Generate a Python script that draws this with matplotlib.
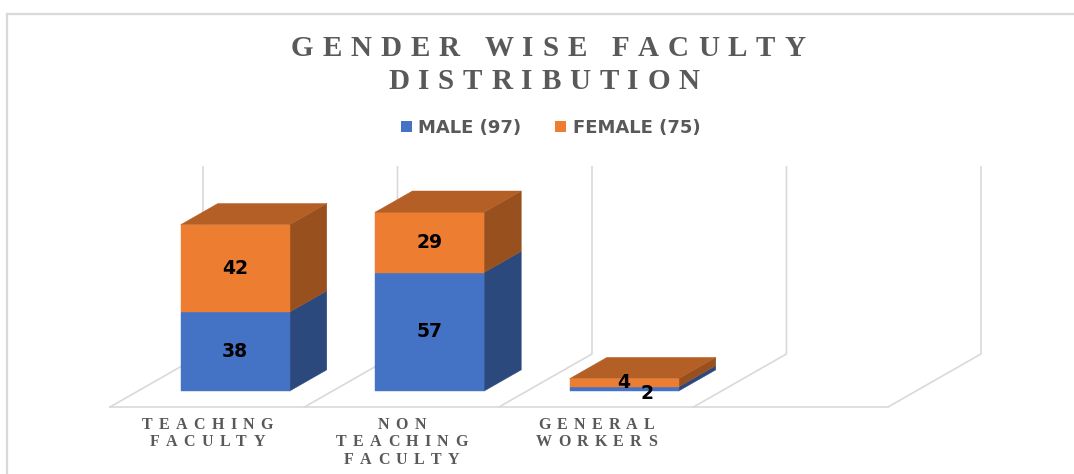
import matplotlib
matplotlib.use("Agg")
import matplotlib.pyplot as plt
from matplotlib.font_manager import FontProperties, findfont, get_font
from matplotlib.lines import Line2D
from matplotlib.patches import Polygon, Rectangle
from matplotlib.transforms import IdentityTransform

# ---------------------------------------------------------------------------
# Data
# ---------------------------------------------------------------------------
categories = [["TEACHING", "FACULTY"],
              ["NON", "TEACHING", "FACULTY"],
              ["GENERAL", "WORKERS"]]
male = [38, 57, 2]
female = [42, 29, 4]
series = ["MALE", "FEMALE"]
title_lines = ["GENDER WISE FACULTY", "DISTRIBUTION"]

N_SLOTS = 4          # floor has one empty slot on the right
V_MAX = 90           # top of the back wall (value units)

# ---------------------------------------------------------------------------
# Look and geometry (oblique "3D" projection)
# ---------------------------------------------------------------------------
W, H, DPI = 1074, 474, 100
SLOT_PX = 194.5      # pixels per category slot
UNIT_PX = 2.08       # pixels per value unit
ORIGIN = (110, 407)  # front-left floor corner, pixels from top-left
DEPTH_X = 0.478      # full depth, in slot units
DEPTH_Y = 25.5       # full depth, in value units
BAR_GAP = 0.22
D_FRONT, D_BACK = 0.30, 0.70

GRID = "#d9d9d9"
TEXT_GREY = "#595959"
FRONT = ["#4472c4", "#ed7d31"]


def shade(hex_color, k):
    r, g, b = (int(hex_color[i:i + 2], 16) for i in (1, 3, 5))
    return (r * k / 255, g * k / 255, b * k / 255)


def proj(x, d, v):
    return x + d * DEPTH_X, v + d * DEPTH_Y


def glyph_advance(ch, prop):
    font = get_font(findfont(prop))
    font.set_size(prop.get_size_in_points(), DPI)
    g = font.load_char(ord(ch))
    return g.linearHoriAdvance / 65536


def tracked_text(fig, s, cx, y, prop, track, color):
    """Draw letter-spaced text centred on cx, baseline at y (display px)."""
    advs = [glyph_advance(ch, prop) for ch in s]
    total = sum(advs) + track * (len(s) - 1)
    x = cx - total / 2
    for ch, a in zip(s, advs):
        fig.text(x, y, ch, fontproperties=prop, color=color,
                 ha="left", va="baseline", transform=IdentityTransform())
        x += a + track


fig = plt.figure(figsize=(W / DPI, H / DPI), dpi=DPI)
ax = fig.add_axes([0, 0, 1, 1])
ax.set_xlim(-ORIGIN[0] / SLOT_PX, (W - ORIGIN[0]) / SLOT_PX)
ax.set_ylim((ORIGIN[1] - H) / UNIT_PX, ORIGIN[1] / UNIT_PX)
ax.axis("off")

# chart area border (top and left edges visible)
fig.add_artist(Line2D([7, W + 5], [H - 14, H - 14], color=GRID, lw=1.6,
                      transform=IdentityTransform()))
fig.add_artist(Line2D([7, 7], [H - 14, -5], color=GRID, lw=1.6,
                      transform=IdentityTransform()))

# floor and back wall grid
fx0, fy0 = proj(0, 0, 0)
fx1, fy1 = proj(N_SLOTS, 0, 0)
ax.plot([fx0, fx1], [fy0, fy1], color=GRID, lw=1.2, zorder=1)
for k in range(N_SLOTS + 1):
    a = proj(k, 0, 0)
    b = proj(k, 1, 0)
    c = proj(k, 1, V_MAX)
    ax.plot([a[0], b[0], c[0]], [a[1], b[1], c[1]], color=GRID, lw=1.2,
            zorder=1)

# stacked 3D bars
val_prop = FontProperties(family="DejaVu Sans", weight="bold", size=13.5)
for i in range(len(categories)):
    x0 = i + BAR_GAP
    x1 = i + 1 - BAR_GAP
    base = 0
    segs = [male[i], female[i]]
    for s, h in enumerate(segs):
        top = base + h
        side = [proj(x1, D_FRONT, base), proj(x1, D_BACK, base),
                proj(x1, D_BACK, top), proj(x1, D_FRONT, top)]
        front = [proj(x0, D_FRONT, base), proj(x1, D_FRONT, base),
                 proj(x1, D_FRONT, top), proj(x0, D_FRONT, top)]
        ax.add_patch(Polygon(side, closed=True, fc=shade(FRONT[s], 0.64),
                             ec=shade(FRONT[s], 0.64), lw=0.3, zorder=3))
        ax.add_patch(Polygon(front, closed=True, fc=FRONT[s], ec=FRONT[s],
                             lw=0.3, zorder=3))
        if s == len(segs) - 1:
            lid = [proj(x0, D_FRONT, top), proj(x1, D_FRONT, top),
                   proj(x1, D_BACK, top), proj(x0, D_BACK, top)]
            ax.add_patch(Polygon(lid, closed=True, fc=shade(FRONT[s], 0.76),
                                 ec=shade(FRONT[s], 0.76), lw=0.3, zorder=3))

        lx, ly = proj(i + 0.5, D_FRONT, base + h / 2)
        if h < 3:
            # thin segment: nudge the label clear of the one above
            lx += 0.115
            ly -= 2.0
        ax.text(lx, ly, str(h), fontproperties=val_prop, color="black",
                ha="center", va="center", zorder=5)
        base = top

# category labels under the floor
cat_prop = FontProperties(family="Liberation Serif", weight="bold", size=11.5)
for i, lines in enumerate(categories):
    cx, _ = ax.transData.transform(proj(i + 0.5, 0, 0))
    for j, line in enumerate(lines):
        tracked_text(fig, line, cx, H - (429 + 17.5 * j), cat_prop, 6.3,
                     TEXT_GREY)

# title
title_prop = FontProperties(family="Liberation Serif", weight="bold",
                            size=21)
tracked_text(fig, title_lines[0], 548, H - 56, title_prop, 8.8, TEXT_GREY)
tracked_text(fig, title_lines[1], 544, H - 89, title_prop, 8.8, TEXT_GREY)

# legend
leg_prop = FontProperties(family="DejaVu Sans", weight="bold", size=13)
totals = [sum(male), sum(female)]
for s, (sq_x, tx) in enumerate([(401, 418), (555, 573)]):
    fig.add_artist(Rectangle((sq_x, H - 132), 11, 11, fc=FRONT[s], ec="none",
                             transform=IdentityTransform()))
    fig.text(tx, H - 133, f"{series[s]} ({totals[s]})", fontproperties=leg_prop,
             color=TEXT_GREY, ha="left", va="baseline",
             transform=IdentityTransform())

fig.savefig("out.png", dpi=DPI)
